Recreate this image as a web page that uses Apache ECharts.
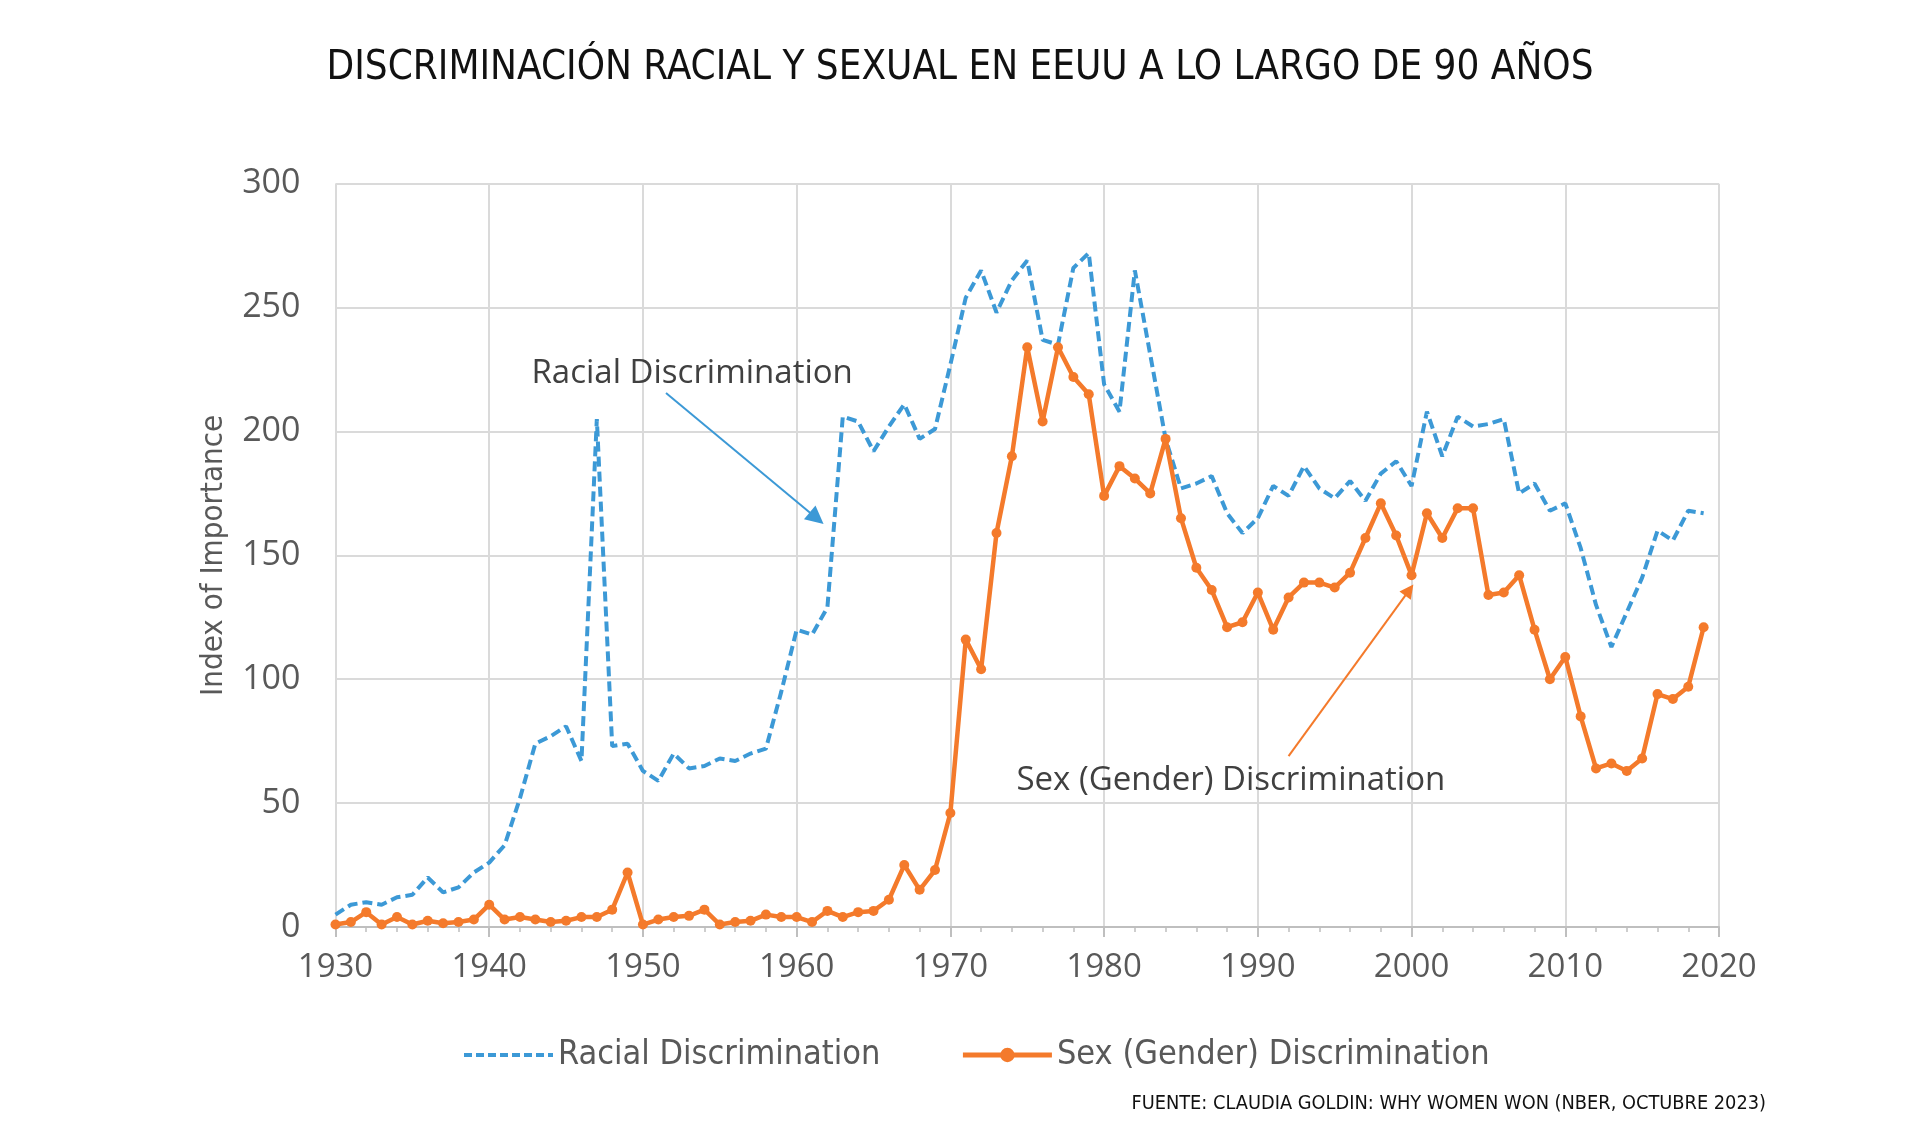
<!DOCTYPE html>
<html>
<head>
<meta charset="utf-8">
<script src="https://cdn.jsdelivr.net/npm/echarts@6/dist/echarts.min.js"></script>
<style>
html,body{margin:0;padding:0;background:#fff;}
#chart{width:1920px;height:1146px;}
</style>
</head>
<body>
<div id="chart"></div>
<script>
var years = [];
for (var y = 1930; y <= 2019; y++) years.push(y);

var racialValues = [
  5, 9, 10, 9, 12, 13, 20, 14, 16, 22,
  26, 33, 52, 74, 77, 81, 67, 205, 73, 74,
  63, 59, 70, 64, 65, 68, 67, 70, 72, 95,
  120, 118, 129, 206, 204, 192, 202, 211, 197, 201,
  227, 254, 265, 248, 261, 269, 237, 235, 266, 272,
  219, 208, 265, 231, 197, 177, 179, 182, 167, 159,
  165, 178, 174, 186, 177, 173, 180, 172, 183, 188,
  178, 208, 190, 206, 202, 203, 205, 175, 179, 168,
  171, 153, 130, 113, 127, 141, 160, 156, 168, 167
];

var sexValues = [
  1, 2, 6, 1, 4, 1, 2.5, 1.5, 2, 3,
  9, 3, 4, 3, 2, 2.5, 4, 4, 7, 22,
  1, 3, 4, 4.5, 7, 1, 2, 2.5, 5, 4,
  4, 2, 6.5, 4, 6, 6.5, 11, 25, 15, 23,
  46, 116, 104, 159, 190, 234, 204, 234, 222, 215,
  174, 186, 181, 175, 197, 165, 145, 136, 121, 123,
  135, 120, 133, 139, 139, 137, 143, 157, 171, 158,
  142, 167, 157, 169, 169, 134, 135, 142, 120, 100,
  109, 85, 64, 66, 63, 68, 94, 92, 97, 121
];

var seriesNames = ['Racial Discrimination', 'Sex (Gender) Discrimination'];
var titleText = 'DISCRIMINACIÓN RACIAL Y SEXUAL EN EEUU A LO LARGO DE 90 AÑOS';
var sourceText = 'FUENTE: CLAUDIA GOLDIN: WHY WOMEN WON (NBER, OCTUBRE 2023)';
var yAxisName = 'Index of Importance';

// annotation anchors (data space)
var racialLabelAt = [1942.75, 223.5];
var racialArrow = [[1951.5, 215.5], [1961.3, 165]];
var sexLabelAt = [1974.3, 59];
var sexArrow = [[1992.0, 69], [1999.85, 136]];

var BLUE = '#3C99D6';
var ORANGE = '#F47A2B';
var narrow = '"DejaVu Sans Condensed", "Open Sans", sans-serif';
var regular = '"Open Sans", "Noto Sans", sans-serif';

function pairs(vals) {
  return years.map(function (yr, i) { return [yr, vals[i]]; });
}

var chart = echarts.init(document.getElementById('chart'));
chart.setOption({
  backgroundColor: '#ffffff',
  animation: false,
  title: {
    text: titleText,
    left: 'center',
    top: 44,
    textStyle: { fontFamily: narrow, fontSize: 40, fontWeight: 'normal', color: '#111111' }
  },
  grid: { left: 335.5, right: 201, top: 183.7, bottom: 219, containLabel: false },
  legend: {
    left: 462,
    top: 1038,
    itemWidth: 89,
    itemHeight: 18,
    itemGap: 80,
    padding: 0,
    textStyle: { fontFamily: narrow, fontSize: 34, color: '#595959' },
    data: [
      { name: seriesNames[0], itemStyle: { opacity: 0 },
        lineStyle: { color: BLUE, width: 4, type: [8, 4] } },
      { name: seriesNames[1],
        itemStyle: { color: ORANGE },
        lineStyle: { color: ORANGE, width: 5, type: 'solid' } }
    ]
  },
  xAxis: {
    type: 'value',
    min: 1930,
    max: 2020,
    interval: 10,
    axisLine: { show: true, lineStyle: { color: '#bfbfbf', width: 2 } },
    axisTick: { show: true, length: 10, lineStyle: { color: '#bfbfbf', width: 2 } },
    minorTick: { show: true, splitNumber: 5, length: 5, lineStyle: { color: '#bfbfbf', width: 1.5 } },
    splitLine: { show: true, lineStyle: { color: '#dadada', width: 2 } },
    axisLabel: { margin: 24, fontFamily: regular, fontSize: 33, color: '#595959', formatter: function (v) { return String(v); } }
  },
  yAxis: {
    type: 'value',
    min: 0,
    max: 300,
    interval: 50,
    name: yAxisName,
    nameLocation: 'middle',
    nameGap: 106,
    nameTextStyle: { fontFamily: narrow, fontSize: 31, color: '#595959' },
    axisLine: { show: false },
    axisTick: { show: false },
    splitLine: { show: true, lineStyle: { color: '#dadada', width: 2 } },
    axisLabel: { margin: 35, fontFamily: regular, fontSize: 34, color: '#595959' }
  },
  graphic: [{
    type: 'text',
    right: 1920 - 1766,
    top: 1094,
    style: { text: sourceText, font: '19.8px ' + narrow, fill: '#111111' }
  }],
  series: [
    {
      name: seriesNames[0],
      type: 'line',
      data: pairs(racialValues),
      symbol: 'none',
      showSymbol: false,
      itemStyle: { color: BLUE },
      lineStyle: { color: BLUE, width: 4, type: [10, 5] },
      z: 2,
      markLine: {
        silent: true,
        symbol: ['none', 'triangle'],
        symbolSize: 18,
        lineStyle: { color: BLUE, width: 2, type: 'solid' },
        label: { show: false },
        data: [[{ coord: racialArrow[0] }, { coord: racialArrow[1] }]]
      },
      markPoint: {
        silent: true,
        symbol: 'circle',
        symbolSize: 0,
        label: { show: true, position: 'right', distance: 0, formatter: seriesNames[0],
          fontFamily: regular, fontSize: 33, color: '#404040' },
        data: [{ coord: racialLabelAt }]
      }
    },
    {
      name: seriesNames[1],
      type: 'line',
      data: pairs(sexValues),
      symbol: 'circle',
      symbolSize: 10,
      itemStyle: { color: ORANGE },
      lineStyle: { color: ORANGE, width: 4.5 },
      z: 3,
      markLine: {
        silent: true,
        symbol: ['none', 'triangle'],
        symbolSize: 14,
        lineStyle: { color: ORANGE, width: 2, type: 'solid' },
        label: { show: false },
        data: [[{ coord: sexArrow[0] }, { coord: sexArrow[1] }]]
      },
      markPoint: {
        silent: true,
        symbol: 'circle',
        symbolSize: 0,
        label: { show: true, position: 'right', distance: 0, formatter: seriesNames[1],
          fontFamily: regular, fontSize: 33, color: '#404040' },
        data: [{ coord: sexLabelAt }]
      }
    }
  ]
});
</script>
</body>
</html>
